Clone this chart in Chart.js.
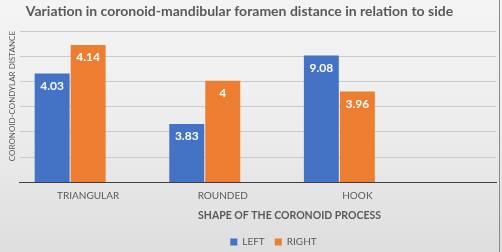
<!DOCTYPE html>
<html><head><meta charset="utf-8">
<script src="https://cdn.jsdelivr.net/npm/chart.js@4.4.0/dist/chart.umd.min.js"></script>
<style>
html,body{margin:0;padding:0;background:#fff;}
#wrap{position:relative;width:502px;height:252px;background:linear-gradient(to bottom,#f4f4f4 0%,#eeeeee 45%,#dedede 100%);overflow:hidden;}
#edge{position:absolute;left:499px;top:0;width:1px;height:252px;background:#8a8a8a;}
canvas{position:absolute;left:0;top:0;}
</style></head><body>
<div id="wrap"><div id="edge"></div><canvas id="c" width="502" height="252"></canvas></div>
<script>
const chartTitle = 'Variation in coronoid-mandibular foramen distance in relation to side';
const xTitle = 'SHAPE OF THE CORONOID PROCESS';
const yTitle = 'CORONOID-CONDYLAR DISTANCE';
const categories = ['TRIANGULAR', 'ROUNDED', 'HOOK'];
const seriesNames = ['LEFT', 'RIGHT'];
// bar heights (6 equal gridline steps)
const leftValues = [4.32, 2.31, 5.03];
const rightValues = [5.45, 4.03, 3.60];
// value labels printed on the bars
const leftLabels = ['4.03', '3.83', '9.08'];
const rightLabels = ['4.14', '4', '3.96'];
const yTicks = [0, 1, 2, 3, 4, 5, 6];

const FONT = 'Lato, "Open Sans", sans-serif';
const GREY = '#595959';

const barLabels = {
  id: 'barLabels',
  afterDatasetsDraw(chart) {
    const ctx = chart.ctx;
    ctx.save();
    ctx.font = 'bold 12px ' + FONT;
    ctx.fillStyle = '#ffffff';
    ctx.textAlign = 'center';
    ctx.textBaseline = 'middle';
    chart.data.datasets.forEach((ds, di) => {
      const meta = chart.getDatasetMeta(di);
      meta.data.forEach((bar, i) => {
        ctx.fillText(ds.valueLabels[i], bar.x, bar.y + 12.5);
      });
    });
    ctx.restore();
  }
};

const shiftBlocks = {
  id: 'shiftBlocks',
  afterLayout(chart) {
    chart.boxes.forEach(b => {
      if (!b.options) return;
      let dx = 0, dy = 0;
      if (b === chart.titleBlock) { dx = -10; }
      else if (b === chart.legend) { dx = 24; dy = 5; }
      else if (b.options.text === xTitle) { dx = 40; }
      else return;
      b.left += dx; b.right += dx; b.top += dy; b.bottom += dy;
    });
  }
};

new Chart(document.getElementById('c'), {
  type: 'bar',
  data: {
    datasets: [
      { label: seriesNames[0], data: leftValues.map((v, i) => ({x: i, y: v})), valueLabels: leftLabels,
        backgroundColor: '#4472C4', borderWidth: 0 },
      { label: seriesNames[1], data: rightValues.map((v, i) => ({x: i, y: v})), valueLabels: rightLabels,
        backgroundColor: '#ED7D31', borderWidth: 0 }
    ]
  },
  options: {
    responsive: false,
    animation: false,
    events: [],
    categoryPercentage: 0.535,
    barPercentage: 0.97,
    layout: { padding: { left: 3, right: 6, top: 0, bottom: 0 } },
    scales: {
      x: {
        type: 'linear',
        offset: false,
        min: -0.3755,
        max: 3.1636,
        afterBuildTicks: (scale) => { scale.ticks = categories.map((_, i) => ({ value: i })); },
        ticks: {
          callback: (v) => categories[v] ?? '',
          autoSkip: false, maxRotation: 0, padding: 7.5, labelOffset: 18,
          color: GREY, font: { family: FONT, size: 10 }
        },
        grid: { display: false, drawTicks: false, offset: false },
        border: { display: true, color: '#404040', width: 1 }
      },
      y: {
        min: yTicks[0],
        max: yTicks[yTicks.length - 1],
        afterBuildTicks: (scale) => { scale.ticks = yTicks.map(v => ({ value: v })); },
        ticks: { display: false },
        grid: { color: '#cacaca', lineWidth: 1, drawTicks: false },
        border: { display: false },
        title: {
          display: true, text: yTitle, align: 'end', color: GREY,
          font: { family: FONT, size: 8 }, padding: { top: 5, bottom: 2 }
        }
      }
    },
    plugins: {
      title: {
        display: true, text: chartTitle, color: GREY,
        font: { family: FONT, size: 14, weight: 'bold' },
        padding: { top: 3.5, bottom: 10.7 }
      },
      subtitle: {
        display: true, text: xTitle, position: 'bottom', weight: 500, color: GREY,
        font: { family: FONT, size: 10.5, weight: 'bold' },
        padding: { top: 0, bottom: 0 }
      },
      legend: {
        position: 'bottom',
        labels: { boxWidth: 7, boxHeight: 7, padding: 10, color: GREY, font: { family: FONT, size: 10 } }
      },
      tooltip: { enabled: false }
    }
  },
  plugins: [barLabels, shiftBlocks]
});
</script>
</body></html>
